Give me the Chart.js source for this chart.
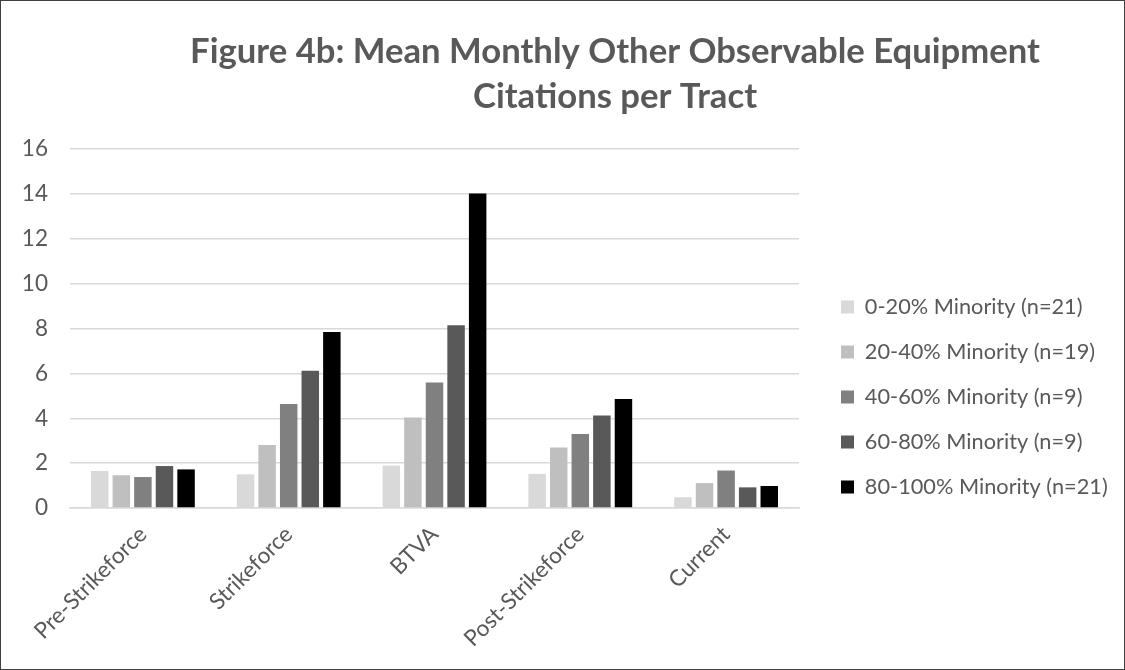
<!DOCTYPE html>
<html>
<head>
<meta charset="utf-8">
<script src="https://cdn.jsdelivr.net/npm/chart.js@4"></script>
<style>
  html, body { margin: 0; padding: 0; background: #fff; }
  #wrap {
    width: 1125px; height: 670px; box-sizing: border-box;
    border: 1px solid #404040; position: relative;
  }
</style>
</head>
<body>
<div id="wrap"><canvas id="citationsChart"></canvas></div>
<script>
// chart data
const periods = ["Pre-Strikeforce", "Strikeforce", "BTVA", "Post-Strikeforce", "Current"];
const seriesNames = [
  "0-20% Minority (n=21)",
  "20-40% Minority (n=19)",
  "40-60% Minority (n=9)",
  "60-80% Minority (n=9)",
  "80-100% Minority (n=21)",
];
const minority0to20 = [1.65, 1.5, 1.89, 1.52, 0.48];
const minority20to40 = [1.46, 2.81, 4.03, 2.7, 1.11];
const minority40to60 = [1.38, 4.63, 5.59, 3.3, 1.67];
const minority60to80 = [1.87, 6.12, 8.15, 4.12, 0.92];
const minority80to100 = [1.72, 7.84, 14.02, 4.86, 0.98];
const yTicks = [0, 2, 4, 6, 8, 10, 12, 14, 16];
const titleLines = ["Figure 4b: Mean Monthly Other Observable Equipment", "Citations per Tract"];

const seriesValues = [minority0to20, minority20to40, minority40to60, minority60to80, minority80to100];
const seriesColors = ["#D9D9D9", "#BFBFBF", "#808080", "#595959", "#000000"];
const textColor = "#595959";
const gridColor = "#D9D9D9";
const fontFamily = "Lato, 'Open Sans', sans-serif";

// layout targets (canvas px)
const plotLeft = 69;
const plotRight = 799;
const plotTop = 148;
const plotBottom = 507;
const legendBoxLeft = 841;
const legendRowPitch = 45;
const legendMiddle = 396;
const legendBox = 13;

// Calibri isn't installed, so size the fallback font to the reference text widths
const measureCtx = document.createElement("canvas").getContext("2d");
function fitFontSize(text, weight, targetWidth) {
  measureCtx.font = weight + " 100px " + fontFamily;
  return (100 * targetWidth) / measureCtx.measureText(text).width;
}
function textWidth(text, size) {
  measureCtx.font = size + "px " + fontFamily;
  return measureCtx.measureText(text).width;
}

const titleSize = fitFontSize(titleLines[0], "bold", 850);
const tickSize = fitFontSize("Pre-Strikeforce", "normal", 148);
const legendSize = fitFontSize("80-100% Minority (n=21)", "normal", 243);
const legendPad = legendRowPitch - legendSize;
const legendGap = legendBoxLeft - plotRight - legendPad;
const longestLegend = Math.max(...seriesNames.map((s) => textWidth(s, legendSize)));

const titlePlugin = {
  id: "offsetTitle",
  afterDraw(chart) {
    const ctx = chart.ctx;
    ctx.save();
    ctx.fillStyle = textColor;
    ctx.font = "bold " + titleSize + "px " + fontFamily;
    ctx.textAlign = "center";
    ctx.textBaseline = "alphabetic";
    ctx.fillText(titleLines[0], 614, 62);
    ctx.fillText(titleLines[1], 614, 107);
    ctx.restore();
  },
};

// the legend box spans the padded height; nudge it so its rows sit where the reference has them
const legendNudge = {
  id: "legendNudge",
  afterLayout(chart) {
    const lg = chart.legend;
    if (!lg) return;
    const shift = (lg.top + lg.bottom) / 2 - legendMiddle;
    lg.top -= shift;
    lg.bottom -= shift;
  },
};

function initializeCitationsChart() {
  const el = document.getElementById("citationsChart");
  if (!el) return;
  const canvasW = el.parentNode.clientWidth;
  const canvasH = el.parentNode.clientHeight;
  const legendWidth = legendPad + legendBox + legendSize / 2 + longestLegend;
  const padRight = canvasW - plotRight - legendGap - legendWidth - 9;
  const padBottom = 12;
  const padLeft = 10;

  new Chart(el, {
    type: "bar",
    data: {
      labels: periods,
      datasets: seriesNames.map((name, i) => ({
        label: name,
        data: seriesValues[i],
        backgroundColor: seriesColors[i],
        borderWidth: 0,
        categoryPercentage: 0.74,
        barPercentage: 0.81,
      })),
    },
    options: {
      responsive: true,
      maintainAspectRatio: false,
      animation: false,
      layout: { padding: { top: plotTop, right: padRight, bottom: padBottom, left: padLeft } },
      plugins: {
        title: { display: false },
        tooltip: { enabled: false },
        legend: {
          position: "right",
          maxWidth: 400,
          labels: {
            color: textColor,
            font: { size: legendSize, family: fontFamily },
            boxWidth: legendBox,
            boxHeight: legendBox,
            padding: legendPad,
          },
        },
      },
      scales: {
        x: {
          grid: { display: false, drawTicks: false },
          border: { color: gridColor, width: 1.5 },
          ticks: {
            color: textColor,
            font: { size: tickSize, family: fontFamily },
            maxRotation: 45,
            minRotation: 45,
            padding: 13,
          },
          afterFit: (axis) => {
            axis.height = canvasH - padBottom - plotBottom;
            axis.paddingLeft = 0;
            axis.paddingRight = 0;
          },
        },
        y: {
          min: 0,
          max: 16,
          afterBuildTicks: (axis) => {
            axis.ticks = yTicks.map((v) => ({ value: v }));
          },
          grid: { color: gridColor, lineWidth: 1.5, drawTicks: false },
          border: { display: false },
          ticks: {
            color: textColor,
            font: { size: tickSize, family: fontFamily },
            padding: 22,
          },
          afterFit: (axis) => {
            axis.width = plotLeft - padLeft;
            axis.paddingTop = 0;
            axis.paddingBottom = 0;
          },
        },
        // empty spacer between plot and legend
        gap: {
          position: "right",
          display: true,
          grid: { display: false, drawTicks: false },
          border: { display: false },
          ticks: { display: false },
          afterFit: (axis) => {
            axis.width = legendGap;
            axis.paddingTop = 0;
            axis.paddingBottom = 0;
          },
        },
      },
    },
    plugins: [titlePlugin, legendNudge],
  });
}

initializeCitationsChart();
</script>
</body>
</html>
